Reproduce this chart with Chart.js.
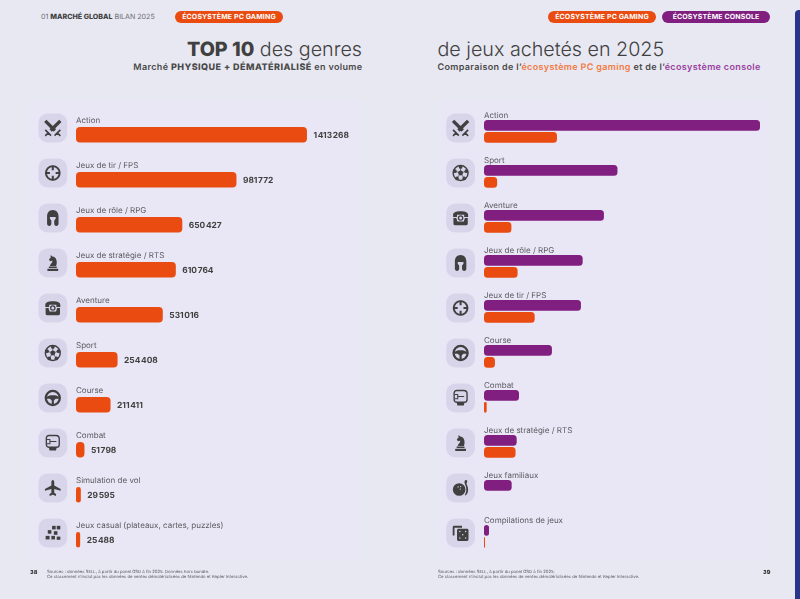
<!DOCTYPE html>
<html lang="fr">
<head>
<meta charset="utf-8">
<title>Top 10 des genres de jeux achetés en 2025</title>
<script src="https://cdn.jsdelivr.net/npm/chart.js@4"></script>
<style>
  html, body { margin: 0; padding: 0; }
  body { width: 800px; height: 599px; position: relative; overflow: hidden; background: #e8e8f2; font-family: Inter, sans-serif; color: #404040; text-rendering: geometricPrecision; }
  canvas { position: absolute; top: 0; }
  #chartPc { left: 0; }
  #chartCompare { left: 400px; }
  .abs { position: absolute; white-space: nowrap; }
  .panel { position: absolute; top: 100px; height: 460px; background: #e9e7f5; border-radius: 8px; }
  .sidebar { position: absolute; left: 795px; top: 10px; width: 5px; height: 589px; background: #29348a; border-radius: 4px 0 0 0; }
  .crumb { left: 41px; top: 12px; font-size: 7.1px; line-height: 10px; color: #6c6c72; }
  .crumb b { color: #404040; font-weight: 800; }
  .pill { top: 11px; width: 108px; height: 12px; border-radius: 6px; color: #fff; font-size: 7px; line-height: 12px; font-weight: 700; text-align: center; letter-spacing: 0.12px; }
  .pc { background: #e94b10; }
  .console { background: #801f80; }
  .title { top: 36.5px; font-size: 19.7px; line-height: 25px; font-weight: 300; color: #404040; }
  .title b { font-weight: 800; }
  .sub { top: 62px; font-size: 9px; line-height: 12px; font-weight: 600; letter-spacing: 0.35px; color: #4a4a4a; }
  .sub b { font-weight: 800; letter-spacing: 0.46px; }
  .sub .o { color: #f27b42; }
  .sub .p { color: #9a40a0; }
  .page { top: 569.5px; font-size: 5.6px; line-height: 7px; font-weight: 800; color: #303030; }
  .note { top: 570px; font-size: 4.25px; line-height: 5.3px; color: #55555c; }
</style>
</head>
<body>
<div class="panel" style="left:28px;width:334px"></div>
<div class="panel" style="left:438px;width:332px"></div>
<div class="sidebar"></div>

<div class="abs crumb">01 <b>MARCHÉ GLOBAL</b> BILAN 2025</div>
<div class="abs pill pc" style="left:175px">ÉCOSYSTÈME PC GAMING</div>
<div class="abs pill pc" style="left:548px">ÉCOSYSTÈME PC GAMING</div>
<div class="abs pill console" style="left:662px">ÉCOSYSTÈME CONSOLE</div>

<div class="abs title" style="right:438px"><b>TOP 10</b> des genres</div>
<div class="abs title" style="left:437.500px">de jeux achetés en 2025</div>
<div class="abs sub" style="right:437.500px">Marché <b>PHYSIQUE + DÉMATÉRIALISÉ</b> en volume</div>
<div class="abs sub" style="left:437.500px">Comparaison de l’<span class="o">écosystème PC gaming</span> et de l’<span class="p">écosystème console</span></div>

<canvas id="chartPc" width="400" height="599"></canvas>
<canvas id="chartCompare" width="400" height="599"></canvas>

<div class="abs page" style="left:30px">38</div>
<div class="abs note" style="left:47px">Sources : données SELL, à partir du panel GSD à fin 2025. Données hors bundle.<br>Ce classement n’inclut pas les données de ventes dématérialisées de Nintendo et Kepler Interactive.</div>
<div class="abs note" style="left:438px">Sources : données SELL, à partir du panel GSD à fin 2025.<br>Ce classement n’inclut pas les données de ventes dématérialisées de Nintendo et Kepler Interactive.</div>
<div class="abs page" style="left:763px">39</div>

<script>
const pcGenres = ['Action', 'Jeux de tir / FPS', 'Jeux de rôle / RPG', 'Jeux de stratégie / RTS', 'Aventure', 'Sport', 'Course', 'Combat', 'Simulation de vol', 'Jeux casual (plateaux, cartes, puzzles)'];
const pcVolumes = [1413268, 981772, 650427, 610764, 531016, 254408, 211411, 51798, 29595, 25488];
const pcIcons = ['swords', 'target', 'helmet', 'knight', 'phone', 'ball', 'wheel', 'glove', 'plane', 'tiles'];

const compareGenres = ['Action', 'Sport', 'Aventure', 'Jeux de rôle / RPG', 'Jeux de tir / FPS', 'Course', 'Combat', 'Jeux de stratégie / RTS', 'Jeux familiaux', 'Compilations de jeux'];
const consoleVolumes = [5346000, 2585000, 2323000, 1911000, 1878000, 1316000, 678000, 633000, 536000, 97000];
const comparePcVolumes = [1413268, 254408, 531016, 650427, 981772, 211411, 51798, 610764, null, 19000];
const compareIcons = ['swords', 'ball', 'phone', 'helmet', 'target', 'wheel', 'glove', 'knight', 'bowling', 'dice'];

const ORANGE = '#e94b10';
const PURPLE = '#801f80';
const TILE = '#d8d5ea';
const INK = '#404040';

// icons are drawn in a 24x24 box, centred on the tile
const iconDraw = {
  swords(c) {
    c.lineCap = 'butt';
    c.lineWidth = 4.6;
    c.beginPath();
    c.moveTo(1.5, 2); c.lineTo(15, 15.5);
    c.moveTo(22.5, 2); c.lineTo(9, 15.5);
    c.stroke();
    c.lineWidth = 2.4;
    c.beginPath();
    c.moveTo(1.5, 14.5); c.lineTo(9.5, 22.5);
    c.moveTo(22.5, 14.5); c.lineTo(14.5, 22.5);
    c.moveTo(1.5, 23); c.lineTo(5.5, 19);
    c.moveTo(22.5, 23); c.lineTo(18.5, 19);
    c.stroke();
  },
  target(c) {
    c.lineWidth = 2.7;
    c.beginPath();
    c.arc(12, 12, 9.6, 0, Math.PI * 2);
    c.stroke();
    c.lineWidth = 2.8;
    c.beginPath();
    c.moveTo(12, 2); c.lineTo(12, 8);
    c.moveTo(12, 16); c.lineTo(12, 22);
    c.moveTo(2, 12); c.lineTo(8, 12);
    c.moveTo(16, 12); c.lineTo(22, 12);
    c.stroke();
  },
  helmet(c) {
    c.fill(new Path2D('M12 1C7 1 4 5 4 9.500V20c0 1.500 1.200 3 3 3s3-1.500 3-3v-4.500l-2-2.500V10.500h8V13l-2 2.500V20c0 1.500 1.200 3 3 3s3-1.500 3-3V9.500C20 5 17 1 12 1Z'));
  },
  knight(c) {
    c.fill(new Path2D('M4.500 20h15v3h-15ZM6.500 17h11v2h-11ZM9 1l2.500 1.800c4 .3 6 3.500 6 7.700 0 2.500-.3 4.200-1 5.700H8c.3-2 1.500-3.400 3-5l.5-2.700-2.500 1-1.700-1-.6-1.700L9 4.500Z'));
  },
  phone(c) {
    c.fill(new Path2D('M1.500 8C1.500 4 5 2.500 12 2.500S22.500 4 22.500 8v2.500h-5.500v-3H7v3H1.500Z'));
    c.fill(new Path2D('M2 12h4l1.500 5h9L18 12h4v8c0 1.200-.8 2-2 2H4c-1.200 0-2-.8-2-2Z'));
    c.lineWidth = 1.8;
    c.beginPath();
    c.arc(12, 12, 3, 0, Math.PI * 2);
    c.stroke();
  },
  ball(c) {
    c.lineWidth = 2;
    c.beginPath();
    c.arc(12, 12, 10.4, 0, Math.PI * 2);
    c.stroke();
    c.beginPath();
    c.arc(12, 12, 3.400, 0, Math.PI * 2);
    c.fill();
    const patches = [[12, 3.500], [20, 9.500], [17, 19.500], [7, 19.500], [4, 9.500]];
    patches.forEach(([x, y]) => {
      c.beginPath();
      c.arc(x, y, 2.600, 0, Math.PI * 2);
      c.fill();
    });
    c.lineWidth = 1;
    c.beginPath();
    patches.forEach(([x, y]) => {
      c.moveTo(12, 12); c.lineTo(x, y);
    });
    c.stroke();
  },
  wheel(c) {
    c.lineWidth = 3.2;
    c.beginPath();
    c.arc(12, 12, 9.800, 0, Math.PI * 2);
    c.stroke();
    c.fill(new Path2D('M3 10.500c3-2 5.500-2.500 9-2.500s6 .5 9 2.500v2.500h-5l-2.500 2.500V21h-3v-5.500L8 13H3Z'));
  },
  glove(c) {
    c.lineWidth = 1.900;
    c.lineJoin = 'round';
    c.stroke(new Path2D('M6.500 1.500h10c3 0 4.500 2 4.500 4.500v8c0 2.500-1.500 4-4 4H7c-2.500 0-4-1.500-4-4V5c0-2 1.500-3.500 3.500-3.500Z'));
    c.lineWidth = 1.500;
    c.beginPath();
    c.moveTo(3.500, 7); c.lineTo(8, 7); c.lineTo(8, 13); c.lineTo(3.500, 13);
    c.moveTo(8, 10); c.lineTo(17, 10);
    c.stroke();
    c.fill(new Path2D('M6.500 18h11l-1 4.500h-9Z'));
  },
  plane(c) {
    c.fill(new Path2D('M12 1c1.300 0 2 1.500 2 3v4.500l9 5v2.500l-9-2.500v5l2.500 2V23L12 21.500 7.500 23v-2.500l2.500-2v-5L1 16v-2.500l9-5V4c0-1.500.7-3 2-3Z'));
  },
  tiles(c) {
    [[11, 2, 5, 5], [17.500, 2, 5, 5], [5, 8, 5, 5], [13.500, 9.500, 5, 5], [2, 16, 5.500, 5], [10, 16, 5, 5], [17.500, 17, 5, 4.500]].forEach(([x, y, w, h]) => c.fillRect(x, y, w, h));
  },
  bowling(c) {
    c.beginPath();
    c.arc(10, 14, 8.800, 0, Math.PI * 2);
    c.fill();
    c.fillStyle = TILE;
    [[8.500, 10.500], [12, 10], [11.500, 13.500]].forEach(([x, y]) => {
      c.beginPath();
      c.arc(x, y, 0.950, 0, Math.PI * 2);
      c.fill();
    });
    c.fillStyle = INK;
    c.fill(new Path2D('M19.500 1c1.200 0 1.800 1 1.800 2s-.6 2-1.200 3c1.500 2.500 2.400 5.500 2.400 8.500s-1 6-3.500 8l-1.200-.8c1.600-2.500 2.200-5 2.200-7.700 0-2.500-.8-5-2-7.500-.4-1-.6-1.600-.6-2.500C17.500 2 18.300 1 19.500 1Z'));
  },
  dice(c) {
    c.fill(new Path2D('M1 4c0-1.200.8-2 2-2h11v2.500H3.500v11H1Z'));
    c.fill(new Path2D('M7 8c0-1 .8-2 2-2h12c1.200 0 2 1 2 2v13c0 1.200-.8 2-2 2H9c-1.200 0-2-.8-2-2Z'));
    c.fillStyle = TILE;
    [[11, 10], [19, 10], [15, 14.500], [11, 19], [19, 19]].forEach(([x, y]) => {
      c.beginPath();
      c.arc(x, y, 1.050, 0, Math.PI * 2);
      c.fill();
    });
  },
};

const formatVolume = (v) => String(v).replace(/\B(?=(\d{3})+$)/g, '\u200a');

// tile, icon, genre name and optional value for every row, placed from the scales
const rowDecor = {
  id: 'rowDecor',
  afterDatasetsDraw(chart, args, opts) {
    const { ctx, scales } = chart;
    const labels = chart.data.labels;
    labels.forEach((label, i) => {
      const y = scales.y.getPixelForValue(i);
      const tileY = y + opts.tileOffset;
      ctx.save();
      ctx.fillStyle = TILE;
      ctx.beginPath();
      ctx.roundRect(opts.tileX, tileY - 14.4, 28.8, 28.8, 9);
      ctx.fill();
      ctx.translate(opts.tileX + 14.4 - 8.6, tileY - 8.6);
      ctx.scale(17.2 / 24, 17.2 / 24);
      ctx.fillStyle = INK;
      ctx.strokeStyle = INK;
      iconDraw[opts.icons[i]](ctx);
      ctx.restore();

      ctx.save();
      ctx.textBaseline = 'middle';
      ctx.textAlign = 'left';
      ctx.textRendering = 'geometricPrecision';
      ctx.font = '400 8px Inter';
      ctx.fillStyle = '#5a5a60';
      ctx.fillText(label, scales.x.left, y + opts.labelOffset);
      if (opts.showValues) {
        const v = chart.data.datasets[0].data[i];
        ctx.font = '700 8.4px Inter';
        ctx.fillStyle = INK;
        ctx.fillText(formatVolume(v), scales.x.getPixelForValue(v) + 6.5, y + 1);
      }
      ctx.restore();
    });
  },
};

const hiddenScales = (max) => ({
  x: { type: 'linear', min: 0, max, display: false },
  y: { type: 'category', display: false },
});

new Chart(document.getElementById('chartPc'), {
  type: 'bar',
  data: {
    labels: pcGenres,
    datasets: [{
      data: pcVolumes,
      backgroundColor: ORANGE,
      borderRadius: 4,
      borderSkipped: false,
      categoryPercentage: 1,
      barPercentage: 15.6 / 45,
    }],
  },
  plugins: [rowDecor],
  options: {
    indexAxis: 'y',
    responsive: false,
    animation: false,
    layout: { padding: { left: 76, right: 38, top: 112.3, bottom: 36.7 } },
    scales: hiddenScales(1750000),
    plugins: {
      legend: { display: false },
      tooltip: { enabled: false },
      rowDecor: { tileX: 38.4, tileOffset: -6.8, labelOffset: -14.5, showValues: true, icons: pcIcons },
    },
  },
});

new Chart(document.getElementById('chartCompare'), {
  type: 'bar',
  data: {
    labels: compareGenres,
    datasets: [
      {
        data: consoleVolumes,
        backgroundColor: PURPLE,
        borderRadius: 3.5,
        borderSkipped: false,
        categoryPercentage: 23.9 / 45,
        barPercentage: 0.895,
      },
      {
        data: comparePcVolumes,
        backgroundColor: ORANGE,
        borderRadius: 3.5,
        borderSkipped: false,
        categoryPercentage: 23.9 / 45,
        barPercentage: 0.895,
      },
    ],
  },
  plugins: [rowDecor],
  options: {
    indexAxis: 'y',
    responsive: false,
    animation: false,
    layout: { padding: { left: 84, right: 30, top: 108.85, bottom: 40.15 } },
    scales: hiddenScales(5540000),
    plugins: {
      legend: { display: false },
      tooltip: { enabled: false },
      rowDecor: { tileX: 46.2, tileOffset: -3.35, labelOffset: -16, showValues: false, icons: compareIcons },
    },
  },
});
</script>
</body>
</html>
